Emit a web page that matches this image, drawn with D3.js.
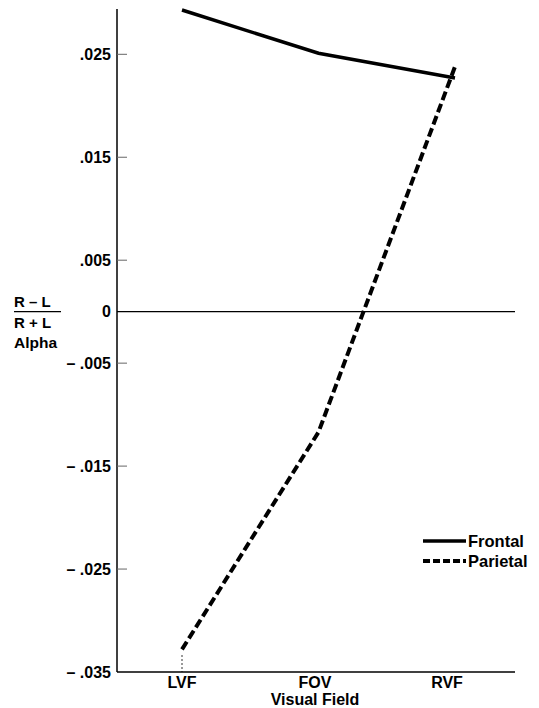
<!DOCTYPE html>
<html><head><meta charset="utf-8">
<script src="https://cdn.jsdelivr.net/npm/d3@7"></script>
<style>body{margin:0;background:#fff}svg{display:block}text{font-family:"Liberation Sans",Arial,sans-serif;font-weight:bold;fill:#000}</style>
</head><body><svg id="c" width="539" height="708"></svg>
<script>
const categories = ["LVF","FOV","RVF"];
const frontal = [0.0293, 0.0251, 0.0227];
const parietal = [-0.0328, -0.0117, 0.0238];
const yTicks = [0.025, 0.015, 0.005, 0, -0.005, -0.015, -0.025, -0.035];
const yTickLabels = [".025", ".015", ".005", "0", "\u2013 .005", "\u2013 .015", "\u2013 .025", "\u2013 .035"];
const seriesNames = ["Frontal","Parietal"];

const svg = d3.select("#c");
const x = d3.scalePoint().domain(categories).range([182, 455]);
const y = d3.scaleLinear().domain([-0.035, 0.0294]).range([672, 9]);
const x0 = 117, x1 = 515;

// y axis
svg.append("line").attr("x1",x0).attr("x2",x0).attr("y1",y(0.0294)).attr("y2",y(-0.035)).attr("stroke","#000").attr("stroke-width",1.5);
// x axis
svg.append("line").attr("x1",x0).attr("x2",x1).attr("y1",y(-0.035)).attr("y2",y(-0.035)).attr("stroke","#000").attr("stroke-width",1.5);
// zero line
svg.append("line").attr("x1",x0).attr("x2",x1).attr("y1",y(0)).attr("y2",y(0)).attr("stroke","#000").attr("stroke-width",1.2);

yTicks.forEach((t,i)=>{
  if (t!==0 && t!==-0.035) svg.append("line").attr("x1",x0).attr("x2",x0+10).attr("y1",y(t)).attr("y2",y(t)).attr("stroke","#666").attr("stroke-width",1);
  svg.append("text").attr("x",111).attr("y",y(t)).attr("dy","0.36em").attr("text-anchor","end").attr("font-size",16).text(yTickLabels[i]);
});

// x category labels
const labelX = [182, 315, 447];
categories.forEach((c,i)=>{
  svg.append("text").attr("x",labelX[i]).attr("y",688).attr("text-anchor","middle").attr("font-size",16).text(c);
});
svg.append("line").attr("x1",x("LVF")).attr("x2",x("LVF")).attr("y1",655).attr("y2",672).attr("stroke","#000").attr("stroke-width",0.8).attr("stroke-dasharray","2,2");
svg.append("text").attr("x",315).attr("y",705).attr("text-anchor","middle").attr("font-size",16).text("Visual Field");

// y axis label
svg.append("text").attr("x",14).attr("y",307).attr("font-size",15).text("R \u2013 L");
svg.append("line").attr("x1",14).attr("x2",61).attr("y1",y(0)).attr("y2",y(0)).attr("stroke","#000").attr("stroke-width",1.2);
svg.append("text").attr("x",14).attr("y",328).attr("font-size",15).text("R + L");
svg.append("text").attr("x",14).attr("y",348).attr("font-size",15.5).text("Alpha");

const line = d3.line().x((d,i)=>x(categories[i])).y(d=>y(d));
svg.append("path").attr("d",line(frontal)).attr("fill","none").attr("stroke","#000").attr("stroke-width",3.5);
svg.append("path").attr("d",line(parietal)).attr("fill","none").attr("stroke","#000").attr("stroke-width",4).attr("stroke-dasharray","9,4");

// legend
const ly = [541, 561];
seriesNames.forEach((n,i)=>{
  const l = svg.append("line").attr("x1",423).attr("x2",466).attr("y1",ly[i]).attr("y2",ly[i]).attr("stroke","#000").attr("stroke-width",i?4:3.5);
  if (i) l.attr("stroke-dasharray","7,3");
  svg.append("text").attr("x",468).attr("y",ly[i]).attr("dy","0.36em").attr("font-size",16.5).text(n);
});
</script></body></html>
